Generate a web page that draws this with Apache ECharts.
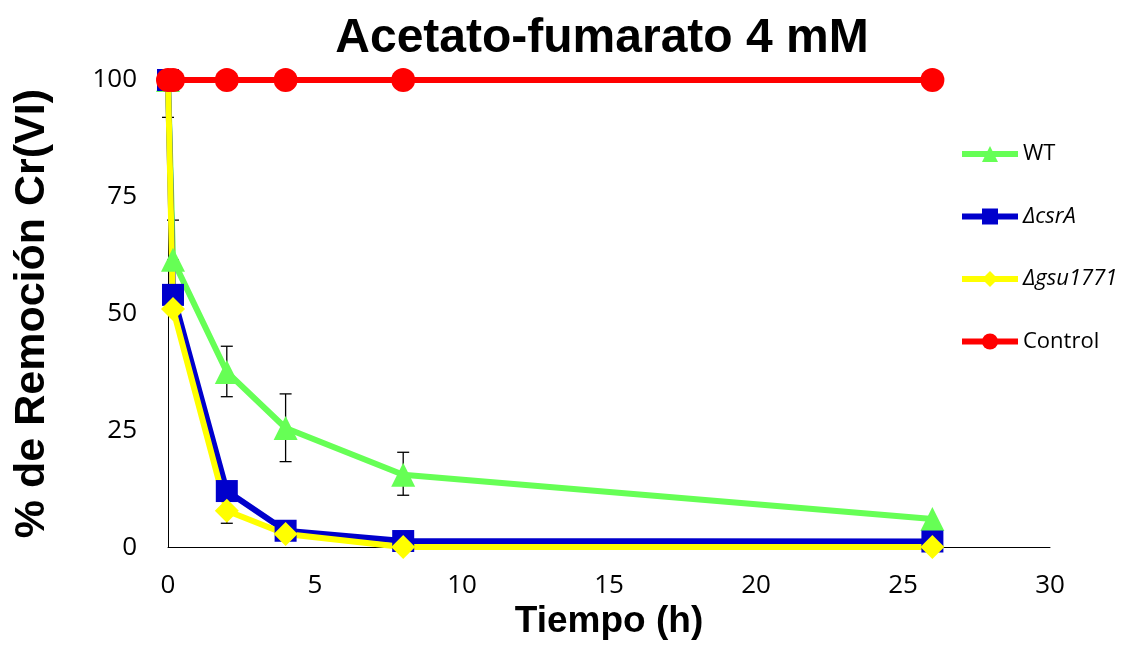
<!DOCTYPE html>
<html>
<head>
<meta charset="utf-8">
<script src="https://cdn.jsdelivr.net/npm/echarts@6/dist/echarts.min.js"></script>
<style>
  html, body { margin: 0; padding: 0; background: #fff; }
  #main { width: 1123px; height: 645px; }
</style>
</head>
<body>
<div id="main"></div>
<script>
// tiempo (h)
var tiempo = [0, 0.17, 2, 4, 8, 26];
var wt = [100, 61.5, 37.5, 25.5, 15.5, 6];
var csrA = [100, 54, 12, 3.5, 1.3, 1.2];
var gsu1771 = [100, 51, 7.8, 2.8, 0, 0];
var control = [100, 100, 100, 100, 100, 100];
// barras de error [x, bajo, alto]
var errWT = [[0, 92, 100], [0.17, 61.5, 70], [2, 32.2, 43], [4, 18.3, 32.8], [8, 11.1, 20.3]];
var errGsu = [[2, 5.1, 7.8]];
var yTicks = [0, 25, 50, 75, 100];

var chart = echarts.init(document.getElementById('main'));

function pares(ys) {
  var out = [];
  for (var i = 0; i < tiempo.length; i++) out.push([tiempo[i], ys[i]]);
  return out;
}

function errorSeries(data) {
  return {
    type: 'custom',
    z: 1,
    silent: true,
    data: data,
    renderItem: function (params, api) {
      var x = api.value(0);
      var lo = api.coord([x, api.value(1)]);
      var hi = api.coord([x, api.value(2)]);
      var w = 6;
      var st = { stroke: '#000', lineWidth: 1.3 };
      return {
        type: 'group',
        children: [
          { type: 'line', shape: { x1: lo[0], y1: lo[1], x2: hi[0], y2: hi[1] }, style: st },
          { type: 'line', shape: { x1: lo[0] - w, y1: lo[1], x2: lo[0] + w, y2: lo[1] }, style: st },
          { type: 'line', shape: { x1: hi[0] - w, y1: hi[1], x2: hi[0] + w, y2: hi[1] }, style: st }
        ]
      };
    }
  };
}

function lineSeries(name, ys, color, symbol, size) {
  return {
    name: name,
    type: 'line',
    z: 3,
    data: pares(ys),
    symbol: symbol,
    symbolSize: size,
    showAllSymbol: true,
    lineStyle: { color: color, width: 6 },
    itemStyle: { color: color },
    emphasis: { disabled: true },
    animation: false
  };
}

chart.setOption({
  animation: false,
  title: {
    text: 'Acetato-fumarato 4 mM',
    left: 597,
    textAlign: 'center',
    top: 10,
    textStyle: { fontFamily: 'Liberation Sans', fontSize: 48, fontWeight: 'bold', color: '#000' }
  },
  legend: {
    orient: 'vertical',
    left: 954,
    top: 138,
    itemWidth: 56,
    itemHeight: 20,
    itemGap: 40.5,
    lineStyle: { width: 6 },
    data: ['WT', '\u0394csrA', '\u0394gsu1771', 'Control'],
    formatter: function (n) {
      return (n === 'WT' || n === 'Control') ? n : '{i|' + n + '}';
    },
    textStyle: {
      fontFamily: 'Open Sans', fontSize: 22, color: '#000', lineHeight: 20,
      rich: { i: { fontStyle: 'italic', fontFamily: 'Open Sans', fontSize: 22, color: '#000', lineHeight: 20 } }
    }
  },
  grid: { left: 168, right: 73, top: 80, bottom: 94 },
  xAxis: {
    type: 'value',
    min: 0, max: 30, interval: 5,
    name: 'Tiempo (h)',
    nameLocation: 'middle',
    nameGap: 53,
    nameTextStyle: { fontFamily: 'Liberation Sans', fontSize: 37, fontWeight: 'bold', color: '#000' },
    axisLine: { lineStyle: { color: '#000', width: 1 } },
    axisTick: { show: false },
    splitLine: { show: false },
    axisLabel: { fontFamily: 'Open Sans', fontSize: 26, color: '#000', margin: 25 }
  },
  yAxis: {
    type: 'value',
    min: 0, max: 100, interval: 25,
    name: '% de Remoción Cr(VI)',
    nameLocation: 'middle',
    nameGap: 114,
    nameTextStyle: { fontFamily: 'Liberation Sans', fontSize: 43, fontWeight: 'bold', color: '#000' },
    axisLine: { show: true, lineStyle: { color: '#000', width: 1 } },
    axisTick: { show: false },
    splitLine: { show: false },
    axisLabel: {
      fontFamily: 'Open Sans', fontSize: 26, color: '#000', margin: 31,
      formatter: function (v) { return yTicks.indexOf(v) >= 0 ? String(v) : ''; }
    }
  },
  series: [
    errorSeries(errWT),
    errorSeries(errGsu),
    lineSeries('WT', wt, '#66FF55', 'triangle', 24),
    lineSeries('\u0394csrA', csrA, '#0000CC', 'rect', 22),
    lineSeries('\u0394gsu1771', gsu1771, '#FFFF00', 'diamond', 24),
    lineSeries('Control', control, '#FF0000', 'circle', 24)
  ]
});
</script>
</body>
</html>
